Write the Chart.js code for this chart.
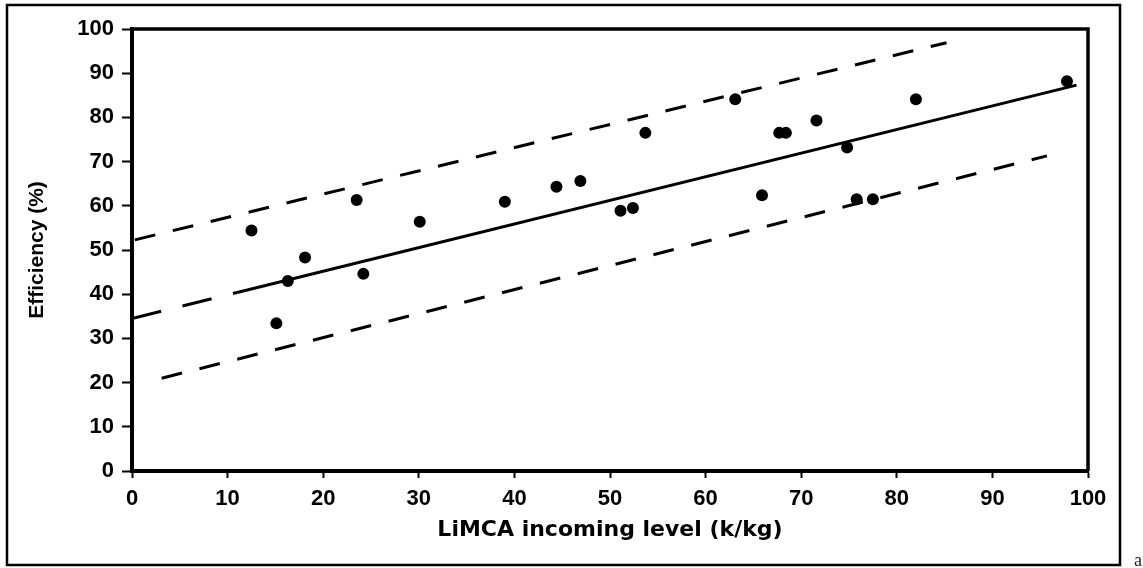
<!DOCTYPE html>
<html>
<head>
  <title>LiMCA efficiency</title>
  <script src="https://cdn.jsdelivr.net/npm/chart.js"></script>
  <style>
    body {
      margin: 0;
      background-color: #fff;
    }
    .chart-container {
      width: 1143px;
      height: 568px;
    }
  </style>
</head>
<body>
  <div class="chart-container">
    <canvas id="efficiencyChart"></canvas>
  </div>
  <script>
    // measured points
    var incomingLevel = [12.5, 15.1, 16.3, 18.1, 23.5, 24.2, 30.1, 39.0, 44.4, 46.9, 51.1, 52.4,
                         53.7, 63.1, 65.9, 67.7, 68.4, 71.6, 74.8, 75.8, 77.5, 82.0, 97.8];
    var efficiency = [54.4, 33.4, 43.0, 48.3, 61.3, 44.6, 56.4, 60.9, 64.3, 65.6, 58.9, 59.5,
                      76.5, 84.1, 62.4, 76.5, 76.5, 79.3, 73.2, 61.5, 61.5, 84.1, 88.2];

    // regression line (solid part) and its extrapolation to 0
    var fitX = [11, 98.8];
    var fitY = [40.4, 87.3];
    var fitExtX = [0, 11];
    var fitExtY = [34.5, 40.4];

    // confidence bands
    var upperX = [0.3, 85.2];
    var upperY = [52.3, 96.9];
    var lowerX = [3.1, 95.7];
    var lowerY = [21.0, 71.3];

    var xTicks = [0, 10, 20, 30, 40, 50, 60, 70, 80, 90, 100];
    var yTicks = [0, 10, 20, 30, 40, 50, 60, 70, 80, 90, 100];

    function toPoints(xs, ys) {
      return xs.map((x, i) => ({ x: x, y: ys[i] }));
    }

    // plot frame, outer box and the little "a"
    var framePlugin = {
      id: 'frame',
      afterDraw(chart) {
        var ctx = chart.ctx;
        var a = chart.chartArea;
        ctx.save();
        ctx.strokeStyle = '#000';
        ctx.lineWidth = 3.5;
        ctx.beginPath();
        ctx.moveTo(a.left, a.top);
        ctx.lineTo(a.right, a.top);
        ctx.lineTo(a.right, a.bottom);
        ctx.stroke();
        ctx.lineWidth = 2.5;
        ctx.strokeRect(7, 5, 1113, 560);
        ctx.font = '18px "Liberation Serif"';
        ctx.fillStyle = '#222';
        ctx.fillText('a', 1134, 566);
        ctx.restore();
      }
    };

    var tickFont = { family: 'Liberation Sans', size: 22, weight: 'bold' };

    var ctx1 = document.getElementById('efficiencyChart').getContext('2d');
    var efficiencyChart = new Chart(ctx1, {
      type: 'scatter',
      data: {
        datasets: [{
          label: 'Efficiency',
          data: toPoints(incomingLevel, efficiency),
          backgroundColor: '#000',
          borderColor: '#000',
          borderWidth: 0,
          pointRadius: 6,
          order: 0
        }, {
          label: 'Fit',
          data: toPoints(fitX, fitY),
          showLine: true,
          borderColor: '#000',
          borderWidth: 3,
          pointRadius: 0,
          order: 1
        }, {
          label: 'Fit (extrapolated)',
          data: toPoints(fitExtX, fitExtY),
          showLine: true,
          borderColor: '#000',
          borderWidth: 3,
          borderDash: [30, 22],
          pointRadius: 0,
          order: 1
        }, {
          label: 'Upper',
          data: toPoints(upperX, upperY),
          showLine: true,
          borderColor: '#000',
          borderWidth: 3,
          borderDash: [21, 18],
          pointRadius: 0,
          order: 1
        }, {
          label: 'Lower',
          data: toPoints(lowerX, lowerY),
          showLine: true,
          borderColor: '#000',
          borderWidth: 3,
          borderDash: [21, 18],
          pointRadius: 0,
          order: 1
        }]
      },
      options: {
        responsive: true,
        maintainAspectRatio: false,
        animation: false,
        layout: {
          padding: { left: 0, right: 55, top: 29, bottom: 0 }
        },
        plugins: {
          legend: { display: false },
          tooltip: { enabled: false }
        },
        scales: {
          x: {
            type: 'linear',
            min: 0,
            max: 100,
            afterBuildTicks: function(scale) {
              scale.ticks = xTicks.map(v => ({ value: v }));
            },
            afterFit: function(scale) {
              scale.height = 97;
            },
            border: { display: true, color: '#000', width: 4 },
            grid: {
              drawOnChartArea: false,
              drawTicks: true,
              tickLength: 7,
              tickWidth: 2,
              tickColor: '#000'
            },
            ticks: { color: '#000', font: tickFont, padding: 8, maxRotation: 0 },
            title: {
              display: true,
              text: 'LiMCA incoming level (k/kg)',
              color: '#000',
              font: { family: 'DejaVu Sans', size: 22, weight: 'bold' },
              padding: { top: 0, bottom: 25 }
            }
          },
          y: {
            type: 'linear',
            min: 0,
            max: 100,
            afterBuildTicks: function(scale) {
              scale.ticks = yTicks.map(v => ({ value: v }));
            },
            afterFit: function(scale) {
              scale.width = 132;
            },
            border: { display: true, color: '#000', width: 4 },
            grid: {
              drawOnChartArea: false,
              drawTicks: true,
              tickLength: 10,
              tickWidth: 2,
              tickColor: '#000'
            },
            ticks: { color: '#000', font: tickFont, padding: 8 },
            title: {
              display: true,
              text: 'Efficiency (%)',
              color: '#000',
              font: { family: 'Liberation Sans', size: 21, weight: 'bold' },
              padding: { top: 25, bottom: 0 }
            }
          }
        }
      },
      plugins: [framePlugin]
    });
  </script>
</body>
</html>
